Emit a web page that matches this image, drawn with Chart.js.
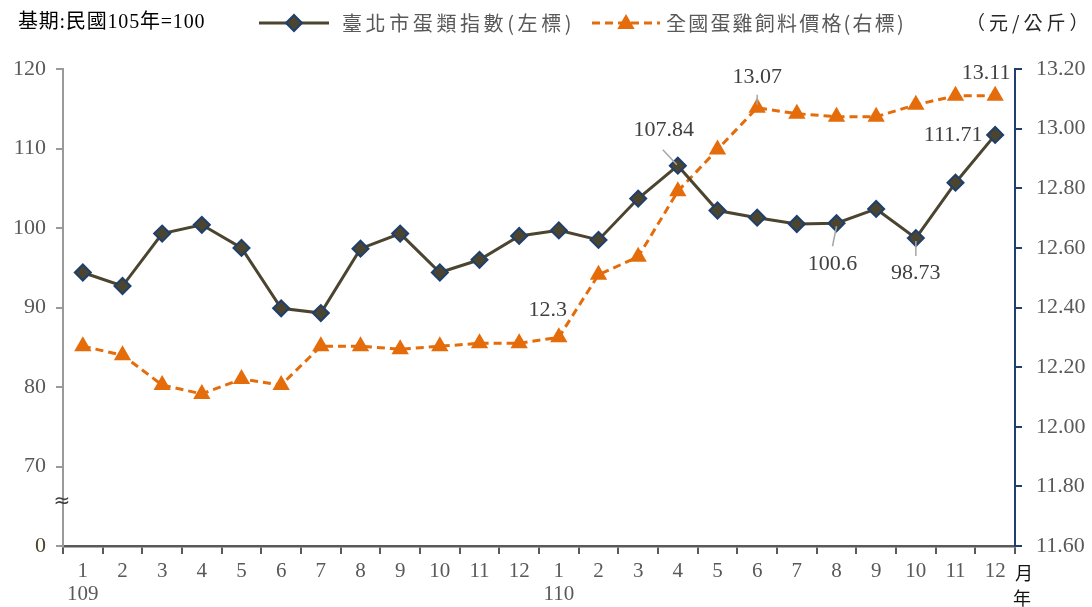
<!DOCTYPE html>
<html>
<head>
<meta charset="utf-8">
<script src="https://cdn.jsdelivr.net/npm/chart.js@4"></script>
<style>
html,body{margin:0;padding:0;background:#fff;}
#wrap{position:relative;width:1092px;height:607px;}
</style>
</head>
<body>
<div id="wrap"><canvas id="c" width="1092" height="607"></canvas></div>
<script>
// ---- data ----
const months = ['1','2','3','4','5','6','7','8','9','10','11','12','1','2','3','4','5','6','7','8','9','10','11','12'];
const years  = ['109','','','','','','','','','','','','110','','','','','','','','','','',''];
const eggIndex  = [94.4, 92.7, 99.3, 100.4, 97.5, 89.9, 89.3, 97.4, 99.3, 94.4, 96.0, 99.0,
                   99.7, 98.5, 103.7, 107.84, 102.2, 101.3, 100.5, 100.6, 102.4, 98.73, 105.7, 111.71];
const feedPrice = [12.27, 12.24, 12.14, 12.11, 12.16, 12.14, 12.27, 12.27, 12.26, 12.27, 12.28, 12.28,
                   12.30, 12.51, 12.57, 12.79, 12.93, 13.07, 13.05, 13.04, 13.04, 13.08, 13.11, 13.11];
const leftTicks  = [60, 70, 80, 90, 100, 110, 120];   // 60 is shown as "0" (broken axis)
const leftTickText = ['0', '70', '80', '90', '100', '110', '120'];
const rightMin = 11.6, rightMax = 13.2, rightStep = 0.2;
const seriesNames = ['臺北市蛋類指數(左標)', '全國蛋雞飼料價格(右標)'];
const baseNote = '基期:民國105年=100';
const unitNote = '（元/公斤）';
// labelled points: [datasetIndex, pointIndex, text]
const pointLabels = [
  [0, 15, '107.84'], [0, 19, '100.6'], [0, 21, '98.73'], [0, 23, '111.71'],
  [1, 12, '12.3'], [1, 17, '13.07'], [1, 23, '13.11']
];

// ---- styles ----
const OLIVE = '#4B4530', NAVY = '#1F3F6E', ORANGE = '#E46C0A';
const serif = '"Liberation Serif", "Noto Sans CJK TC", serif';
const labelPlace = { // dx, dy of label centre from point, and leader line
  '0-15': {dx:-14, dy:-35, leader:[[-15,-16],[-1,-1]]},
  '0-19': {dx:-4, dy:41, leader:[[0,3],[-4,23]]},
  '0-21': {dx:0, dy:35, leader:[[0,3],[0,18]]},
  '0-23': {dx:-42, dy:0},
  '1-12': {dx:-11, dy:-27},
  '1-17': {dx:0, dy:-31, leader:[[0,-13],[0,-3]]},
  '1-23': {dx:-9, dy:-23}
};

const overlay = {
  id: 'overlay',
  afterDatasetsDraw(chart) {
    const ctx = chart.ctx;
    ctx.save();
    ctx.font = '22px ' + serif;
    ctx.textAlign = 'center';
    ctx.textBaseline = 'middle';
    pointLabels.forEach(([ds, i, txt]) => {
      const el = chart.getDatasetMeta(ds).data[i];
      const p = labelPlace[ds + '-' + i];
      if (p.leader) {
        ctx.strokeStyle = '#A6A6A6';
        ctx.lineWidth = 1.5;
        ctx.beginPath();
        ctx.moveTo(el.x + p.leader[0][0], el.y + p.leader[0][1]);
        ctx.lineTo(el.x + p.leader[1][0], el.y + p.leader[1][1]);
        ctx.stroke();
      }
      ctx.fillStyle = '#404040';
      ctx.fillText(txt, el.x + p.dx, el.y + p.dy);
    });
    ctx.restore();
  },
  afterDraw(chart) {
    const ctx = chart.ctx;
    const yL = chart.scales.y;
    ctx.save();
    // axis break symbol
    const yb = (yL.getPixelForValue(60) + yL.getPixelForValue(70)) / 2 - 4;
    ctx.fillStyle = '#404040';
    ctx.font = '20px "DejaVu Sans", sans-serif';
    ctx.textAlign = 'center';
    ctx.textBaseline = 'middle';
    ctx.fillText('≈', yL.right - 1, yb);

    // 月 / 年
    ctx.font = '18px "Noto Sans CJK TC"';
    ctx.fillStyle = '#111';
    ctx.fillText('月', 1024, 573);
    ctx.fillText('年', 1022, 598);

    // header / legend
    ctx.textAlign = 'left';
    ctx.textBaseline = 'middle';
    ctx.font = '20px ' + serif;
    ctx.fillStyle = '#000';
    if ('letterSpacing' in ctx) ctx.letterSpacing = '0.8px';
    ctx.fillText(baseNote, 18, 23);

    const ds = chart.data.datasets;
    // legend 1
    ctx.letterSpacing = '0px';
    ctx.strokeStyle = ds[0].borderColor;
    ctx.lineWidth = 3;
    ctx.setLineDash([]);
    ctx.beginPath(); ctx.moveTo(259, 23); ctx.lineTo(329, 23); ctx.stroke();
    ctx.beginPath();
    ctx.moveTo(294 - 8, 23); ctx.lineTo(294, 15); ctx.lineTo(294 + 8, 23); ctx.lineTo(294, 31); ctx.closePath();
    ctx.fillStyle = ds[0].pointBackgroundColor; ctx.fill();
    ctx.strokeStyle = ds[0].pointBorderColor; ctx.lineWidth = 2; ctx.stroke();
    ctx.font = '20px "Noto Sans CJK TC"';
    ctx.fillStyle = '#595959';
    ctx.letterSpacing = '3.6px';
    ctx.fillText(seriesNames[0], 342, 23);

    // legend 2
    ctx.letterSpacing = '0px';
    ctx.strokeStyle = ds[1].borderColor;
    ctx.lineWidth = 3;
    ctx.setLineDash([8, 5]);
    ctx.beginPath(); ctx.moveTo(592, 23); ctx.lineTo(660, 23); ctx.stroke();
    ctx.setLineDash([]);
    ctx.beginPath();
    const tr = 10, tx = 626, ty = 24;
    ctx.moveTo(tx, ty - tr);
    ctx.lineTo(tx + tr * Math.sin(2 * Math.PI / 3), ty - tr * Math.cos(2 * Math.PI / 3));
    ctx.lineTo(tx + tr * Math.sin(4 * Math.PI / 3), ty - tr * Math.cos(4 * Math.PI / 3));
    ctx.closePath();
    ctx.fillStyle = ds[1].pointBackgroundColor; ctx.fill();
    ctx.fillStyle = '#595959';
    ctx.letterSpacing = '2.2px';
    ctx.fillText(seriesNames[1], 666, 23);

    ctx.fillStyle = '#262626';
    ctx.font = '19px "Noto Sans CJK TC"';
    ctx.letterSpacing = '4px';
    ctx.fillText(unitNote, 966, 23);
    ctx.restore();
  }
};

new Chart(document.getElementById('c'), {
  type: 'line',
  data: {
    labels: months.map((m, i) => [m, years[i]]),
    datasets: [
      {
        label: seriesNames[0],
        data: eggIndex,
        yAxisID: 'y',
        borderColor: OLIVE,
        borderWidth: 3,
        pointStyle: 'rectRot',
        pointRadius: 8,
        pointHoverRadius: 8,
        pointBackgroundColor: OLIVE,
        pointBorderColor: NAVY,
        pointBorderWidth: 2,
        tension: 0,
        order: 0
      },
      {
        label: seriesNames[1],
        data: feedPrice,
        yAxisID: 'y1',
        borderColor: ORANGE,
        borderWidth: 3,
        borderDash: [8, 5],
        pointStyle: 'triangle',
        pointRadius: 10,
        pointHoverRadius: 10,
        pointBackgroundColor: ORANGE,
        pointBorderColor: ORANGE,
        pointBorderWidth: 0,
        tension: 0,
        order: 1
      }
    ]
  },
  options: {
    responsive: false,
    animation: false,
    devicePixelRatio: 1,
    layout: { padding: { top: 69, left: 0, right: 0, bottom: 0 } },
    plugins: { legend: { display: false }, tooltip: { enabled: false } },
    scales: {
      x: {
        type: 'category',
        offset: true,
        grid: { display: true, offset: true, drawOnChartArea: false, drawTicks: true, tickLength: 8, color: '#595959', lineWidth: 2 },
        border: { display: true, color: '#595959', width: 2.5 },
        ticks: { color: '#595959', font: { family: serif, size: 21, lineHeight: 1.1 }, padding: 6, maxRotation: 0, autoSkip: false },
        afterFit(s) { s.height = 61; }
      },
      y: {
        position: 'left',
        min: 60, max: 120,
        afterBuildTicks(s) { s.ticks = leftTicks.map(v => ({ value: v })); },
        grid: { display: true, drawOnChartArea: false, drawTicks: true, tickLength: 7, color: '#9A9A9A', lineWidth: 2 },
        border: { display: true, color: '#9A9A9A', width: 2 },
        ticks: {
          callback(v) { const k = leftTicks.indexOf(v); return k >= 0 ? leftTickText[k] : ''; },
          color: (c) => c.tick && c.tick.value === 60 ? '#4A4428' : '#595959',
          font: { family: serif, size: 22 },
          padding: 10
        },
        afterFit(s) { s.width = 63; }
      },
      y1: {
        position: 'right',
        min: rightMin, max: rightMax,
        ticks: {
          stepSize: rightStep,
          callback(v) { return Number(v).toFixed(2); },
          color: '#595959',
          font: { family: serif, size: 22 },
          padding: 14
        },
        grid: { display: true, drawOnChartArea: false, drawTicks: true, tickLength: 7, color: NAVY, lineWidth: 2 },
        border: { display: true, color: NAVY, width: 2 },
        afterFit(s) { s.width = 77; }
      }
    }
  },
  plugins: [overlay]
});
</script>
</body>
</html>
